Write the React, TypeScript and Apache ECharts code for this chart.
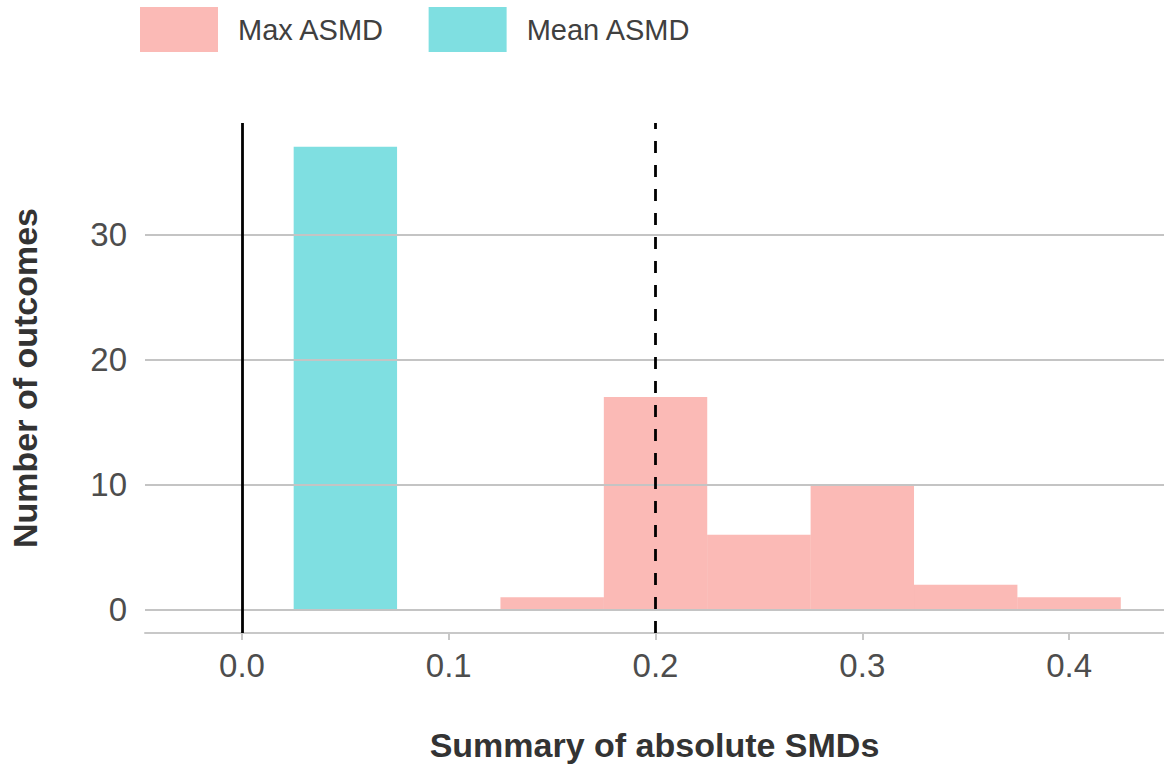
import React, { useEffect, useRef } from "react";
import * as echarts from "echarts";

// Histogram bins (bin start, bin end) and counts
const maxBinStarts = [0.125, 0.175, 0.225, 0.275, 0.325, 0.375];
const maxBinEnds = [0.175, 0.225, 0.275, 0.325, 0.375, 0.425];
const maxCounts = [1, 17, 6, 10, 2, 1];

const meanBinStarts = [0.025];
const meanBinEnds = [0.075];
const meanCounts = [37];

const xTicks = [0, 0.1, 0.2, 0.3, 0.4];
const yTicks = [0, 10, 20, 30];
const zeroLine = 0;
const thresholdLine = 0.2;

const seriesNames = ["Max ASMD", "Mean ASMD"];
const FONT = "'Liberation Sans', Arial, Helvetica, sans-serif";

export default function App() {
  const ref = useRef<HTMLDivElement>(null);
  useEffect(() => {
    if (!ref.current) return;
    const chart = echarts.init(ref.current, null, { renderer: "svg" });
    const maxData = maxCounts.map((c, i) => [maxBinStarts[i], maxBinEnds[i], c]);
    const meanData = meanCounts.map((c, i) => [meanBinStarts[i], meanBinEnds[i], c]);
    const renderItem = (params: any, api: any) => {
      const p0 = api.coord([api.value(0), api.value(2)]);
      const p1 = api.coord([api.value(1), 0]);
      return {
        type: "rect",
        shape: { x: p0[0], y: p0[1], width: p1[0] - p0[0], height: p1[1] - p0[1] },
        style: { fill: api.visual("color") },
      };
    };
    chart.setOption({
      animation: false,
      textStyle: { fontFamily: FONT },
      legend: {
        data: seriesNames,
        left: 140,
        top: 7,
        padding: 0,
        icon: "rect",
        itemWidth: 78,
        itemHeight: 45,
        itemGap: 44,
        textStyle: { fontSize: 29, color: "#404040", fontFamily: FONT, padding: [0, 0, 0, 15] },
        selectedMode: false,
      },
      grid: { left: 145, right: 0, top: 123, bottom: 132, containLabel: false },
      xAxis: {
        type: "value",
        min: -0.0469,
        max: 0.4459,
        name: "Summary of absolute SMDs",
        nameLocation: "middle",
        nameGap: 95,
        nameTextStyle: { fontSize: 34, fontWeight: "bold", color: "#333333", fontFamily: FONT },
        axisLine: { show: true, onZero: false, lineStyle: { color: "#c8c8c8", width: 2 } },
        axisTick: { show: true, customValues: xTicks, length: 7, lineStyle: { color: "#c8c8c8", width: 2 } },
        axisLabel: {
          customValues: xTicks,
          formatter: (v: number) => v.toFixed(1),
          fontSize: 33,
          color: "#4d4d4d",
          margin: 16,
          fontFamily: FONT,
        },
        splitLine: { show: false },
      },
      yAxis: {
        type: "value",
        min: -1.85,
        max: 38.9,
        name: "Number of outcomes",
        nameLocation: "middle",
        nameRotate: 90,
        nameGap: 103,
        nameTextStyle: { fontSize: 34, fontWeight: "bold", color: "#333333", fontFamily: FONT },
        axisLine: { show: false },
        axisTick: { show: false },
        axisLabel: {
          customValues: yTicks,
          fontSize: 33,
          color: "#4d4d4d",
          margin: 18,
          fontFamily: FONT,
        },
        splitLine: { show: false },
      },
      series: [
        {
          name: "grid",
          type: "line",
          data: [],
          z: 1,
          silent: true,
          markLine: {
            silent: true,
            symbol: ["none", "none"],
            label: { show: false },
            emphasis: { disabled: true },
            lineStyle: { color: "#c4c4c4", width: 2.2, type: "solid" },
            data: yTicks.map((v) => ({ yAxis: v })),
          },
        },
        {
          name: seriesNames[0],
          type: "custom",
          z: 2,
          itemStyle: { color: "rgba(248,118,109,0.5)" },
          renderItem,
          encode: { x: [0, 1], y: 2 },
          data: maxData,
        },
        {
          name: seriesNames[1],
          type: "custom",
          z: 2,
          itemStyle: { color: "rgba(0,191,196,0.5)" },
          renderItem,
          encode: { x: [0, 1], y: 2 },
          data: meanData,
        },
        {
          name: "refs",
          type: "line",
          data: [],
          z: 3,
          silent: true,
          markLine: {
            silent: true,
            symbol: ["none", "none"],
            label: { show: false },
            emphasis: { disabled: true },
            data: [
              { xAxis: zeroLine, lineStyle: { color: "#000000", width: 2.8, type: "solid" } },
              { xAxis: thresholdLine, lineStyle: { color: "#000000", width: 2.8, type: [12, 12] } },
            ],
          },
        },
      ],
    });
    return () => chart.dispose();
  }, []);
  return (
    <div
      ref={ref}
      style={{ position: "fixed", left: 0, top: 0, width: 1164, height: 767, background: "#ffffff" }}
    />
  );
}
